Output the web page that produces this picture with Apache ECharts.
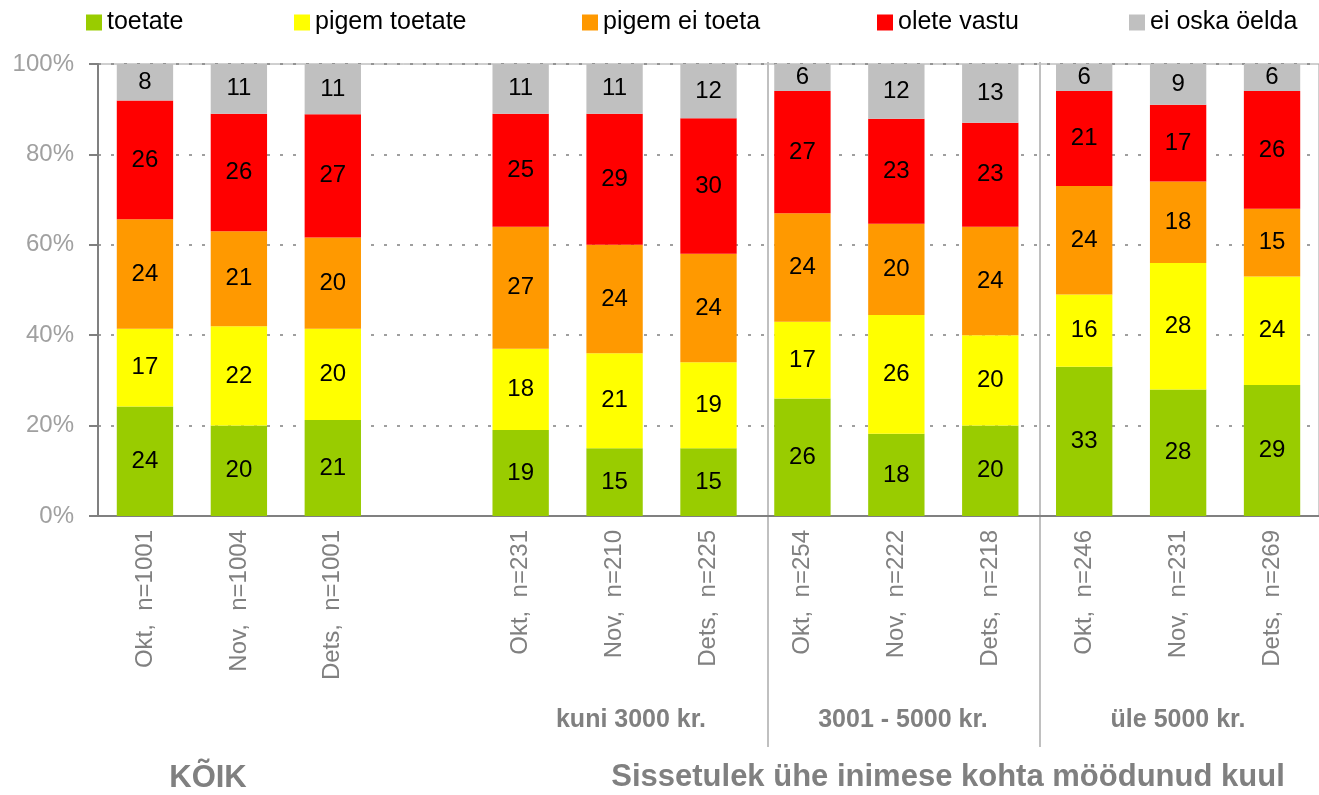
<!DOCTYPE html>
<html lang="et">
<head>
    <meta charset="UTF-8">
    <title>Toetus</title>
    <script type="text/javascript" src="https://cdn.jsdelivr.net/npm/echarts@6/dist/echarts.min.js"></script>
    <style>
        html, body { margin: 0; padding: 0; background: #fff; }
    </style>
</head>
<body>
<div id="main" style="width: 1319px;height:795px;"></div>
<script type="text/javascript">
    // kategooriad (4. veerg on tühi vahe)
    var categories = ['Okt,  n=1001', 'Nov,  n=1004', 'Dets,  n=1001', '',
        'Okt,  n=231', 'Nov,  n=210', 'Dets,  n=225',
        'Okt,  n=254', 'Nov,  n=222', 'Dets,  n=218',
        'Okt,  n=246', 'Nov,  n=231', 'Dets,  n=269'];

    var seriesNames = ['toetate', 'pigem toetate', 'pigem ei toeta', 'olete vastu', 'ei oska öelda'];
    var colors = ['#99cc00', '#ffff00', '#ff9900', '#ff0000', '#c0c0c0'];

    var toetate      = [24, 20, 21, null, 19, 15, 15, 26, 18, 20, 33, 28, 29];
    var pigemToetate = [17, 22, 20, null, 18, 21, 19, 17, 26, 20, 16, 28, 24];
    var pigemEiToeta = [24, 21, 20, null, 27, 24, 24, 24, 20, 24, 24, 18, 15];
    var oleteVastu   = [26, 26, 27, null, 25, 29, 30, 27, 23, 23, 21, 17, 26];
    var eiOska       = [8, 11, 11, null, 11, 11, 12, 6, 12, 13, 6, 9, 6];

    var yTickLabels = ['0%', '20%', '40%', '60%', '80%', '100%'];

    var groupLabels = ['kuni 3000 kr.', '3001 - 5000 kr.', 'üle 5000 kr.'];

    var raw = [toetate, pigemToetate, pigemEiToeta, oleteVastu, eiOska];

    // 100% virnastus: iga veerg jagatakse oma summaga
    var totals = categories.map(function (c, i) {
        var s = 0;
        raw.forEach(function (arr) { s += arr[i] || 0; });
        return s;
    });

    var font = 'Liberation Sans, Arial, sans-serif';

    var series = raw.map(function (arr, k) {
        return {
            name: seriesNames[k],
            type: 'bar',
            stack: 'total',
            barWidth: '60%',
            itemStyle: { color: colors[k] },
            label: {
                show: true,
                position: 'inside',
                color: '#000',
                fontSize: 24,
                fontFamily: font,
                formatter: function (p) { return arr[p.dataIndex]; }
            },
            data: arr.map(function (v, i) {
                return v == null ? null : v / totals[i] * 100;
            })
        };
    });

    var legendX = [81, 289, 577, 872, 1124];
    var legends = seriesNames.map(function (n, k) {
        return {
            data: [n],
            left: legendX[k],
            top: 5,
            itemWidth: 16,
            itemHeight: 16,
            itemGap: 0,
            icon: 'rect',
            textStyle: { fontSize: 25, color: '#000', fontFamily: font }
        };
    });

    var option = {
        animation: false,
        legend: legends,
        grid: {
            left: 98,
            top: 64,
            width: 1235,
            height: 452,
            show: true,
            borderColor: '#a0a0a0',
            borderWidth: 1
        },
        xAxis: {
            type: 'category',
            data: categories,
            axisLine: { lineStyle: { color: '#808080', width: 2 } },
            axisTick: { length: 9, lineStyle: { color: '#808080', width: 2 } },
            axisLabel: {
                rotate: 90,
                interval: 0,
                margin: 14,
                color: '#808080',
                fontSize: 24,
                fontFamily: font
            }
        },
        yAxis: {
            type: 'value',
            min: 0,
            max: 100,
            interval: 20,
            axisLine: { show: true, lineStyle: { color: '#808080', width: 2 } },
            axisTick: { show: true, length: 9, lineStyle: { color: '#808080', width: 2 } },
            axisLabel: {
                margin: 24,
                color: '#a0a0a0',
                fontSize: 24,
                fontFamily: font,
                formatter: function (v) { return yTickLabels[v / 20]; }
            },
            splitLine: {
                lineStyle: { color: '#808080', type: [3, 10], width: 1.5 }
            }
        },
        graphic: [
            { type: 'line', shape: { x1: 768, y1: 62, x2: 768, y2: 747 }, style: { stroke: '#c0c0c0', lineWidth: 2 } },
            { type: 'line', shape: { x1: 1040, y1: 62, x2: 1040, y2: 747 }, style: { stroke: '#c0c0c0', lineWidth: 2 } },
            { type: 'text', x: 631, y: 720, style: { text: groupLabels[0], fill: '#808080', font: 'bold 25px ' + font, textAlign: 'center', textVerticalAlign: 'middle' } },
            { type: 'text', x: 903, y: 720, style: { text: groupLabels[1], fill: '#808080', font: 'bold 25px ' + font, textAlign: 'center', textVerticalAlign: 'middle' } },
            { type: 'text', x: 1178, y: 720, style: { text: groupLabels[2], fill: '#808080', font: 'bold 25px ' + font, textAlign: 'center', textVerticalAlign: 'middle' } },
            { type: 'text', x: 208, y: 778, style: { text: 'KÕIK', fill: '#808080', font: 'bold 31px ' + font, textAlign: 'center', textVerticalAlign: 'middle' } },
            { type: 'text', x: 948, y: 777, style: { text: 'Sissetulek ühe inimese kohta möödunud kuul', fill: '#808080', font: 'bold 31px ' + font, textAlign: 'center', textVerticalAlign: 'middle' } }
        ],
        series: series
    };

    var myChart = echarts.init(document.getElementById('main'));
    myChart.setOption(option);
</script>
</body>
</html>
